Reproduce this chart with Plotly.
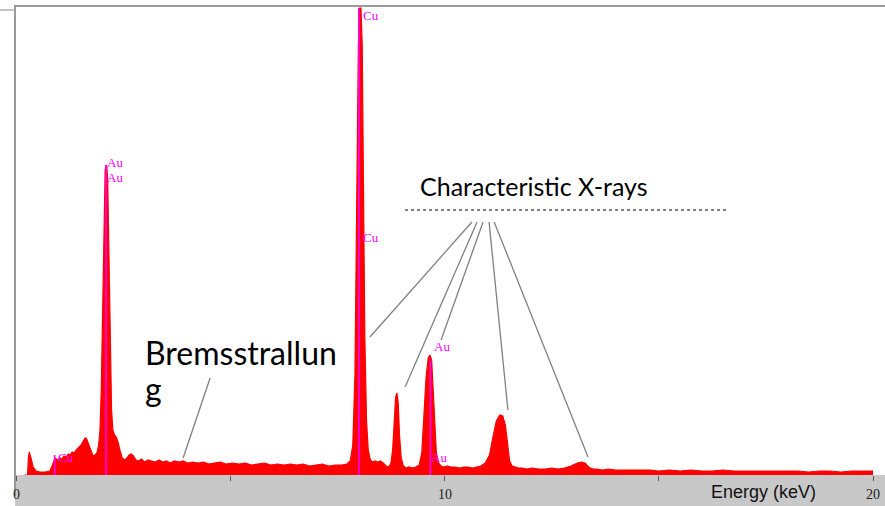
import plotly.graph_objects as go

# ---- spectrum data (energy keV, counts) ----
energy_kev = [
    0.20, 0.27, 0.29, 0.31, 0.35, 0.40, 0.47, 0.56, 0.68, 0.79, 0.84, 0.88, 0.91, 0.98,
    1.03, 1.07, 1.12, 1.17, 1.22, 1.26, 1.31, 1.35, 1.40, 1.45, 1.52, 1.57, 1.61, 1.64,
    1.68, 1.72, 1.75, 1.79, 1.82, 1.86, 1.89, 1.93, 1.96, 1.99, 2.02, 2.05, 2.08, 2.10,
    2.12, 2.14, 2.17, 2.20, 2.23, 2.26, 2.30, 2.34, 2.38, 2.43, 2.48, 2.53, 2.59, 2.64,
    2.69, 2.74, 2.80, 2.86, 2.93, 3.00, 3.08, 3.16, 3.25, 3.34, 3.42, 3.51, 3.60, 3.70,
    3.80, 3.90, 4.00, 4.12, 4.25, 4.38, 4.50, 4.63, 4.77, 4.90, 5.05, 5.20, 5.35, 5.50,
    5.65, 5.80, 5.95, 6.10, 6.25, 6.40, 6.55, 6.70, 6.85, 7.00, 7.15, 7.30, 7.45, 7.60,
    7.72, 7.80, 7.86, 7.91, 7.95, 7.99, 8.02, 8.05, 8.08, 8.11, 8.14, 8.18, 8.22, 8.27,
    8.32, 8.38, 8.44, 8.50, 8.57, 8.64, 8.70, 8.75, 8.79, 8.83, 8.86, 8.89, 8.92, 8.95,
    8.99, 9.04, 9.10, 9.17, 9.25, 9.33, 9.41, 9.47, 9.52, 9.57, 9.62, 9.66, 9.70, 9.73,
    9.77, 9.81, 9.86, 9.92, 9.99, 10.06, 10.15, 10.25, 10.35, 10.45, 10.55, 10.65, 10.75,
    10.85, 10.95, 11.05, 11.13, 11.21, 11.29, 11.36, 11.42, 11.47, 11.52, 11.58, 11.65,
    11.73, 11.82, 11.92, 12.05, 12.20, 12.35, 12.50, 12.65, 12.80, 12.95, 13.10, 13.20,
    13.28, 13.34, 13.40, 13.47, 13.56, 13.68, 13.82, 14.00, 14.20, 14.40, 14.60, 14.80,
    15.00, 15.25, 15.50, 15.75, 16.00, 16.25, 16.50, 16.75, 17.00, 17.25, 17.50, 17.75,
    18.00, 18.25, 18.50, 18.75, 19.00, 19.25, 19.50, 19.75, 20.00, 20.40,
]
counts = [
    0, 0, 18, 23, 17, 8, 4, 3, 3, 4, 9, 15, 17, 15,
    17, 16, 19, 18, 21, 20, 23, 22, 25, 27, 30, 34, 37, 37,
    32, 27, 23, 20, 19, 21, 22, 30, 45, 85, 170, 260, 305, 310,
    308, 295, 230, 130, 65, 45, 40, 38, 33, 24, 17, 15, 17, 20,
    21, 19, 15, 14, 16, 13, 15, 14, 13, 15, 13, 14, 12, 14,
    13, 14, 12, 13, 12, 13, 11, 12, 13, 11, 12, 11, 12, 10,
    11, 12, 10, 11, 10, 11, 10, 11, 9, 10, 11, 9, 10, 10,
    11, 14, 30, 100, 260, 430, 467, 467, 430, 300, 140, 55, 25, 15,
    13, 14, 13, 14, 12, 9, 8, 12, 25, 56, 78, 82, 72, 40,
    17, 9, 7, 8, 7, 8, 10, 22, 55, 98, 117, 120, 115, 85,
    48, 22, 12, 9, 8, 9, 8, 8, 7, 8, 8, 7, 8,
    9, 12, 20, 38, 54, 60, 59, 50, 30, 14, 9,
    8, 7, 7, 6, 7, 6, 6, 7, 6, 7, 9, 12,
    13, 12, 9, 7, 6, 6, 5, 6, 5, 5, 5, 5,
    5, 4, 5, 4, 5, 4, 4, 5, 4, 4, 4, 4,
    4, 4, 4, 3, 4, 4, 3, 4, 4, 4,
]

# ---- element marker lines and labels ----
marker_energy = [0.90, 2.10, 8.00, 9.67]
marker_top = [20, 310, 467, 115]

label_text = ["Cu", "Au", "Au", "Cu", "Cu", "Au", "Au"]
label_energy = [0.93, 2.08, 2.08, 8.05, 8.05, 9.71, 9.64]
label_counts = [18, 313, 298, 460, 238, 129, 18]

# ---- annotation texts ----
char_text = "Characteristic X-rays"
brems_lines = ["Bremsstrallun", "g"]
# pointer lines: (start keV, start counts, end keV, end counts)
char_ptr_x0 = [10.64, 10.76, 10.90, 11.04, 11.16]
char_ptr_y0 = [253, 253, 253, 253, 253]
char_ptr_x1 = [8.26, 9.08, 9.92, 11.48, 13.35]
char_ptr_y1 = [138, 88, 135, 65, 18]
brems_ptr = [4.53, 97, 3.90, 17]

tick_vals = [0, 5, 10, 15, 20]
tick_labels = ["0", "10", "20"]
tick_label_pos = [0, 10, 20]
axis_title = "Energy (keV)"

W, H = 885, 506
ML, MR, MT, MB = 15, 0, 6, 31
px_per_kev = 42.85
x0_kev = (ML - 16) / px_per_kev
x1_kev = (W - 16) / px_per_kev
plot_h = H - MT - MB

fig = go.Figure()
fig.add_trace(go.Scatter(
    x=energy_kev, y=counts, mode="lines", fill="tozeroy",
    line=dict(color="#ff0000", width=1.2), fillcolor="#ff0000",
    hoverinfo="skip", showlegend=False,
))

shapes = []
# band under axis
shapes.append(dict(type="rect", xref="paper", yref="paper", x0=0, x1=1,
                   y0=-MB / plot_h, y1=0, fillcolor="#c8c8c8",
                   line=dict(width=0), layer="below"))
# frame lines
shapes.append(dict(type="line", xref="paper", yref="paper", x0=0, x1=1,
                   y0=1, y1=1, line=dict(color="#9a9a9a", width=2)))
shapes.append(dict(type="line", xref="paper", yref="paper", x0=0, x1=0,
                   y0=-0.045, y1=1.002, line=dict(color="#9a9a9a", width=2)))
shapes.append(dict(type="line", xref="paper", yref="paper", x0=-ML / (W - ML), x1=0,
                   y0=(plot_h - 4) / plot_h, y1=(plot_h - 4) / plot_h,
                   line=dict(color="#b0b0b0", width=1.5)))

for e, t in zip(marker_energy, marker_top):
    shapes.append(dict(type="line", xref="x", yref="y", x0=e, x1=e, y0=0, y1=t,
                       line=dict(color="#ff00ff", width=1.6)))

for a, b, c, d in zip(char_ptr_x0, char_ptr_y0, char_ptr_x1, char_ptr_y1):
    shapes.append(dict(type="line", xref="x", yref="y", x0=a, y0=b, x1=c, y1=d,
                       line=dict(color="#808080", width=1.3)))
shapes.append(dict(type="line", xref="x", yref="y", x0=brems_ptr[0], y0=brems_ptr[1],
                   x1=brems_ptr[2], y1=brems_ptr[3],
                   line=dict(color="#808080", width=1.3)))
# remnants of a cut-off caption under the main label
shapes.append(dict(type="line", xref="x", yref="y", x0=9.08, x1=16.62, y0=265, y1=265,
                   line=dict(color="#555555", width=1.5, dash="dot")))

annotations = []
for t, e, c in zip(label_text, label_energy, label_counts):
    annotations.append(dict(x=e, y=c, xref="x", yref="y", text=t, showarrow=False,
                            xanchor="left", yanchor="middle",
                            font=dict(family="Liberation Serif", size=13, color="#ff00ff")))

annotations.append(dict(x=(418 - 16) / px_per_kev, y=475 - 186, xref="x", yref="y",
                        text=char_text, showarrow=False, xanchor="left", yanchor="middle",
                        font=dict(family="Lato", size=25, color="#000000")))
annotations.append(dict(x=(143 - 16) / px_per_kev, y=475 - 352, xref="x", yref="y",
                        text=brems_lines[0], showarrow=False, xanchor="left", yanchor="middle",
                        font=dict(family="Lato", size=32, color="#000000")))
annotations.append(dict(x=(143 - 16) / px_per_kev, y=475 - 388, xref="x", yref="y",
                        text=brems_lines[1], showarrow=False, xanchor="left", yanchor="middle",
                        font=dict(family="Lato", size=32, color="#000000")))

for lab, v in zip(tick_labels, tick_label_pos):
    annotations.append(dict(x=v, y=-(494 - 475) / plot_h, xref="x", yref="paper",
                            text=lab, showarrow=False, xanchor="center", yanchor="middle",
                            font=dict(family="Liberation Serif", size=14, color="#222222")))
annotations.append(dict(x=(709 - ML) / (W - ML), y=-(492 - 475) / plot_h,
                        xref="paper", yref="paper", text=axis_title, showarrow=False,
                        xanchor="left", yanchor="middle",
                        font=dict(family="Liberation Sans", size=18, color="#111111")))

fig.update_layout(
    width=W, height=H,
    margin=dict(l=ML, r=MR, t=MT, b=MB, pad=0),
    paper_bgcolor="#ffffff", plot_bgcolor="#ffffff",
    shapes=shapes, annotations=annotations, showlegend=False,
    xaxis=dict(range=[x0_kev, x1_kev], showgrid=False, zeroline=False,
               showline=False, ticks="outside", ticklen=5, tickwidth=1,
               tickcolor="#555555", tickvals=tick_vals, showticklabels=False,
               fixedrange=True),
    yaxis=dict(range=[0, plot_h], showgrid=False, zeroline=False, visible=False,
               fixedrange=True),
)

fig.write_html("out.html", config={"displayModeBar": False})
